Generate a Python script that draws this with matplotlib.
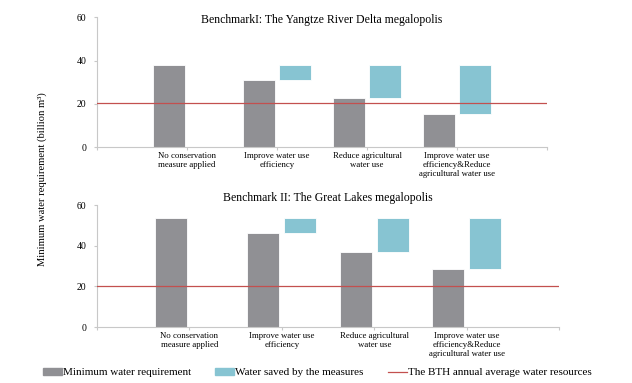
import numpy as np
import matplotlib.pyplot as plt
from matplotlib.patches import Patch
from matplotlib.lines import Line2D

plt.rcParams['font.family'] = ['Liberation Serif', 'DejaVu Serif']

# categories (blank slots at both ends like the original)
categories = ['No conservation\nmeasure applied',
              'Improve water use\nefficiency',
              'Reduce agricultural\nwater use',
              'Improve water use\nefficiency&Reduce\nagricultural water use']

# Benchmark I: Yangtze River Delta
yrd_min = [37.7, 30.9, 22.8, 15.5]
yrd_total = 37.7
# Benchmark II: Great Lakes
gl_min = [53.6, 46.1, 37.0, 28.5]
gl_total = 53.6

bth_water = 20.3

titles = ['BenchmarkI: The Yangtze River Delta megalopolis',
          'Benchmark II: The Great Lakes megalopolis']

gray = '#909094'
blue = '#87c4d2'
red = '#c3504f'
axis_col = '#c8c8c8'

fig = plt.figure(figsize=(6.32, 3.83), dpi=100)
ax1 = fig.add_axes([0.1535, 0.616, 0.712, 0.339])
ax2 = fig.add_axes([0.1535, 0.146, 0.731, 0.3185])

x = np.arange(len(categories))
w = 0.35
off = 0.2

for ax, mins, total in [(ax1, yrd_min, yrd_total), (ax2, gl_min, gl_total)]:
    mins = np.array(mins)
    saved = total - mins
    ax.bar(x - off, mins, width=w, color=gray, edgecolor='white', linewidth=0.6, zorder=2)
    ax.bar(x[1:] + off, saved[1:], bottom=mins[1:], width=w, color=blue,
           edgecolor='white', linewidth=0.6, zorder=2)
    ax.axhline(bth_water, color=red, lw=0.9, zorder=3)
    ax.set_xlim(-1, 4)
    ax.set_ylim(0, 60)
    ax.set_yticks([0, 20, 40, 60])
    ax.set_xticks(np.arange(-1, 5))
    ax.set_xticklabels([''] + categories + [''], fontsize=6.3, linespacing=1.15)
    ax.tick_params(axis='y', labelsize=7, length=2.5, color=axis_col, pad=5)
    ax.tick_params(axis='x', length=2.5, color=axis_col, pad=1)
    for s in ['top', 'right']:
        ax.spines[s].set_visible(False)
    for s in ['left', 'bottom']:
        ax.spines[s].set_color(axis_col)
        ax.spines[s].set_linewidth(0.8)

ax1.set_title(titles[0], fontsize=8.5, y=0.98, pad=-2)
ax2.set_title(titles[1], fontsize=8.5, pad=3)

fig.text(0.066, 0.533, 'Minimum water requirement (billion m³)', rotation=90,
         ha='center', va='center', fontsize=7.6)

handles = [Patch(color=gray, label='Minimum water requirement'),
           Patch(color=blue, label='Water saved by the measures'),
           Line2D([0], [0], color=red, lw=0.9, label='The BTH annual average water resources')]
fig.legend(handles=handles, loc='center', bbox_to_anchor=(0.502, 0.027), ncol=3,
           frameon=False, fontsize=8, handlelength=1.7, handleheight=0.6,
           handletextpad=0.1, columnspacing=2.2, borderpad=0, borderaxespad=0)

fig.savefig('out.png', dpi=100)
